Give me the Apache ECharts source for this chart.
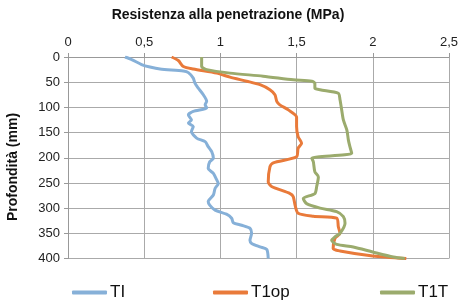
<!DOCTYPE html>
<html>
<head>
<meta charset="utf-8">
<script src="https://cdn.jsdelivr.net/npm/echarts@6/dist/echarts.min.js"></script>
<style>
html, body { margin: 0; padding: 0; background: #fff; }
#chart { width: 461px; height: 302px; }
</style>
</head>
<body>
<div id="chart"></div>
<script>
// profondità (mm) e resistenza (MPa)
var tiDepth = [0, 5, 15, 20, 24, 28, 31, 42, 52, 62, 75, 88, 95, 101, 108, 115, 125, 131, 138, 148, 161, 168, 178, 188, 201, 208, 221, 231, 244, 251, 261, 274, 287, 294, 304, 312, 320, 329, 334, 340, 350, 364, 370, 377, 382, 400]
var tiValue = [0.374, 0.418, 0.483, 0.538, 0.604, 0.757, 0.79, 0.822, 0.833, 0.855, 0.888, 0.91, 0.9, 0.91, 0.822, 0.79, 0.81, 0.79, 0.822, 0.81, 0.844, 0.9, 0.92, 0.943, 0.954, 0.93, 0.92, 0.954, 0.976, 0.986, 0.965, 0.954, 0.92, 0.93, 0.965, 1.04, 1.074, 1.085, 1.14, 1.194, 1.205, 1.194, 1.205, 1.26, 1.304, 1.314]

var t1opDepth = [0, 7, 19, 24, 32, 40, 48, 55, 65, 75, 88, 95, 105, 119, 138, 158, 171, 181, 198, 210, 218, 248, 257, 271, 277, 294, 310, 316, 320, 337, 350, 360, 380, 385, 395, 400]
var t1opValue = [0.68, 0.724, 0.757, 0.822, 0.976, 1.063, 1.172, 1.26, 1.325, 1.358, 1.37, 1.39, 1.446, 1.5, 1.5, 1.51, 1.533, 1.51, 1.5, 1.347, 1.325, 1.314, 1.336, 1.457, 1.478, 1.49, 1.51, 1.61, 1.763, 1.774, 1.785, 1.752, 1.74, 1.785, 2.0, 2.22]

var t1tDepth = [0, 19, 25, 32, 38, 45, 48, 52, 62, 65, 72, 85, 105, 125, 145, 165, 178, 191, 201, 208, 228, 238, 257, 271, 281, 291, 300, 307, 317, 330, 350, 357, 364, 372, 377, 387, 397, 400]
var t1tValue = [0.877, 0.877, 0.91, 1.063, 1.28, 1.478, 1.6, 1.62, 1.62, 1.654, 1.774, 1.785, 1.796, 1.807, 1.83, 1.84, 1.85, 1.862, 1.6, 1.61, 1.62, 1.643, 1.632, 1.62, 1.544, 1.566, 1.654, 1.763, 1.807, 1.818, 1.785, 1.752, 1.73, 1.763, 1.872, 2.0, 2.135, 2.21]

var seriesNames = ['TI', 'T1op', 'T1T']
var seriesColors = ['#86b0d8', '#e97a3a', '#9bab6d']

function pairs (values, depths) {
  var out = []
  for (var i = 0; i < values.length; i++) {
    out.push([values[i], depths[i]])
  }
  return out
}

var allData = [pairs(tiValue, tiDepth), pairs(t1opValue, t1opDepth), pairs(t1tValue, t1tDepth)]

var chart = echarts.init(document.getElementById('chart'))
var font = 'Liberation Sans, Arial, sans-serif'

var series = []
var legends = []
var legendLeft = [72, 213, 380]
for (var i = 0; i < seriesNames.length; i++) {
  series.push({
    name: seriesNames[i],
    type: 'line',
    data: allData[i],
    symbol: 'none',
    smooth: 0.25,
    lineStyle: { color: seriesColors[i], width: 3 },
    itemStyle: { color: seriesColors[i] }
  })
  legends.push({
    data: [seriesNames[i]],
    left: legendLeft[i],
    top: 284,
    icon: 'roundRect',
    itemWidth: 35,
    itemHeight: 4,
    itemGap: 4,
    padding: 0,
    textStyle: { fontSize: 17, color: '#111', fontFamily: font, padding: [0, 0, 0, -2] }
  })
}

chart.setOption({
  animation: false,
  backgroundColor: '#fff',
  title: {
    text: 'Resistenza alla penetrazione (MPa)',
    left: 223,
    top: 3,
    textAlign: 'center',
    textStyle: { fontSize: 14, fontWeight: 'bold', color: '#111', fontFamily: font }
  },
  graphic: [{
    type: 'text',
    x: 13,
    y: 167,
    rotation: Math.PI / 2,
    style: {
      text: 'Profondità (mm)',
      fontSize: 14,
      fontWeight: 'bold',
      fill: '#111',
      fontFamily: font,
      textAlign: 'center',
      textVerticalAlign: 'middle'
    }
  }],
  legend: legends,
  grid: { left: 68, right: 12, top: 57, bottom: 43.5 },
  xAxis: {
    type: 'value',
    position: 'top',
    min: 0,
    max: 2.5,
    interval: 0.5,
    axisLine: { show: true, lineStyle: { color: '#999' } },
    axisTick: { show: true, length: 4, lineStyle: { color: '#999' } },
    axisLabel: {
      fontSize: 13,
      color: '#222',
      fontFamily: font,
      margin: 8,
      formatter: function (v) { return String(v).replace('.', ',') }
    },
    splitLine: { show: true, lineStyle: { color: '#aaa', width: 1 } }
  },
  yAxis: {
    type: 'value',
    inverse: true,
    min: 0,
    max: 400,
    interval: 50,
    axisLine: { show: true, lineStyle: { color: '#999' } },
    axisTick: { show: true, length: 4, lineStyle: { color: '#999' } },
    axisLabel: { fontSize: 13, color: '#222', fontFamily: font, margin: 8 },
    splitLine: { show: true, lineStyle: { color: '#aaa', width: 1 } }
  },
  series: series
})
</script>
</body>
</html>
